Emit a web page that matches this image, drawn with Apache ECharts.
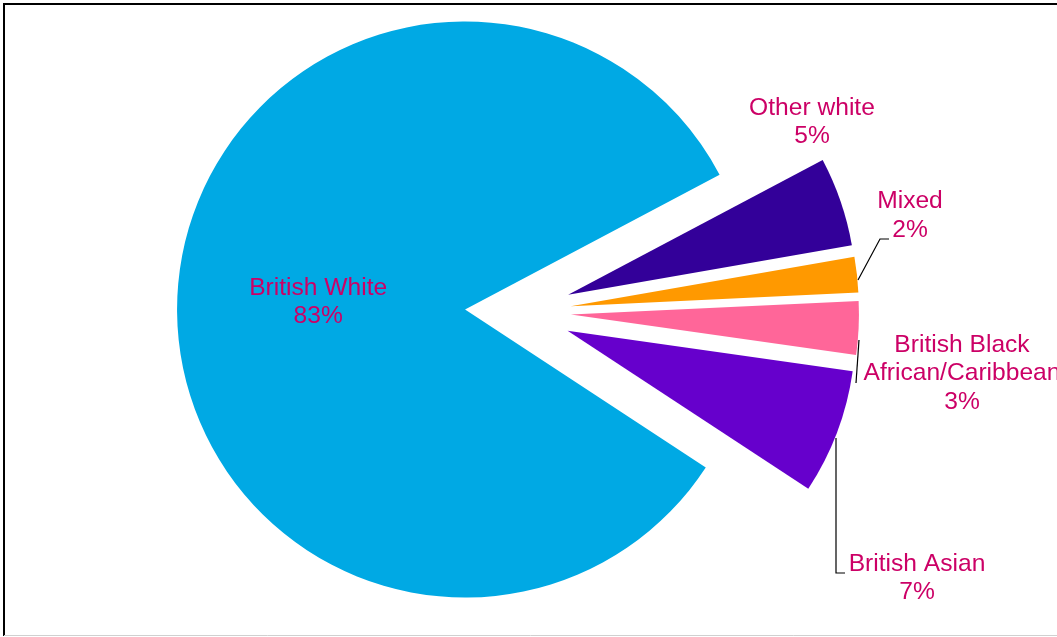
<!DOCTYPE html>
<html>
<head>
<meta charset="utf-8">
<title>Ethnic composition</title>
<script src="https://cdn.jsdelivr.net/npm/echarts@6/dist/echarts.min.js"></script>
<style>
  html, body { margin: 0; padding: 0; background: #ffffff; }
  #chart { width: 1057px; height: 637px; }
</style>
</head>
<body>
<div id="chart"></div>
<script>
// Ethnic groups and their share of the population (%)
const categories = ['British White', 'Other white', 'Mixed', 'British Black\nAfrican/Caribbean', 'British Asian'];
const shares = [83, 5, 2, 3, 7];
const sliceColors = ['#00A9E4', '#330099', '#FF9900', '#FF6699', '#6600CC'];

// Where each outside label sits (centre of its text block) and how its leader line runs
const labelSpots = [null, [812, 122], [910, 215.5], [962, 373.5], [917, 578]];
const leaderRoutes = [
  null,
  null,
  [[858, 280], [880, 239], [889, 239]],
  [[859, 340], [856, 383]],
  [[836, 438], [836, 573], [845, 573]]
];

const LABEL_COLOR = '#CC0066';
const LABEL_FONT = '24.6px "Liberation Sans", Arial, sans-serif';

const chart = echarts.init(document.getElementById('chart'), null, { renderer: 'canvas' });

const pieData = categories.map((name, i) => ({
  name: name,
  value: shares[i],
  selected: true,
  itemStyle: { color: sliceColors[i] },
  label: { show: labelSpots[i] == null }
}));

// Frame round the plot
const graphics = [
  { type: 'line', z: 10, shape: { x1: 3, y1: 4, x2: 1057, y2: 4 }, style: { stroke: '#000000', lineWidth: 2 } },
  { type: 'line', z: 10, shape: { x1: 4, y1: 3, x2: 4, y2: 636 }, style: { stroke: '#000000', lineWidth: 2 } },
  { type: 'line', z: 10, shape: { x1: 4, y1: 635.5, x2: 1057, y2: 635.5 }, style: { stroke: '#d0d0d0', lineWidth: 1 } }
];

// Outside labels for the small slices, text built from the data
categories.forEach((name, i) => {
  const spot = labelSpots[i];
  if (!spot) return;
  graphics.push({
    type: 'text', z: 20, x: spot[0], y: spot[1],
    style: {
      text: name + '\n' + shares[i] + '%',
      font: LABEL_FONT,
      fill: LABEL_COLOR,
      align: 'center',
      verticalAlign: 'middle',
      lineHeight: 28.5
    }
  });
  if (leaderRoutes[i]) {
    graphics.push({
      type: 'polyline', z: 15,
      shape: { points: leaderRoutes[i] },
      style: { stroke: '#000000', lineWidth: 1.2, fill: null }
    });
  }
});

chart.setOption({
  animation: false,
  backgroundColor: '#ffffff',
  graphic: graphics,
  series: [{
    type: 'pie',
    center: [518, 312],
    radius: [0, 288],
    startAngle: -33.3,
    clockwise: true,
    selectedMode: 'multiple',
    selectedOffset: 53,
    avoidLabelOverlap: false,
    percentPrecision: 0,
    silent: true,
    emphasis: { disabled: true },
    itemStyle: { borderWidth: 0 },
    label: {
      position: 'inside',
      formatter: '{b}\n{d}%',
      color: LABEL_COLOR,
      fontFamily: '"Liberation Sans", Arial, sans-serif',
      fontSize: 24.6,
      lineHeight: 28,
      align: 'center',
      offset: [4, 4]
    },
    labelLine: { show: false },
    data: pieData
  }]
});
</script>
</body>
</html>
